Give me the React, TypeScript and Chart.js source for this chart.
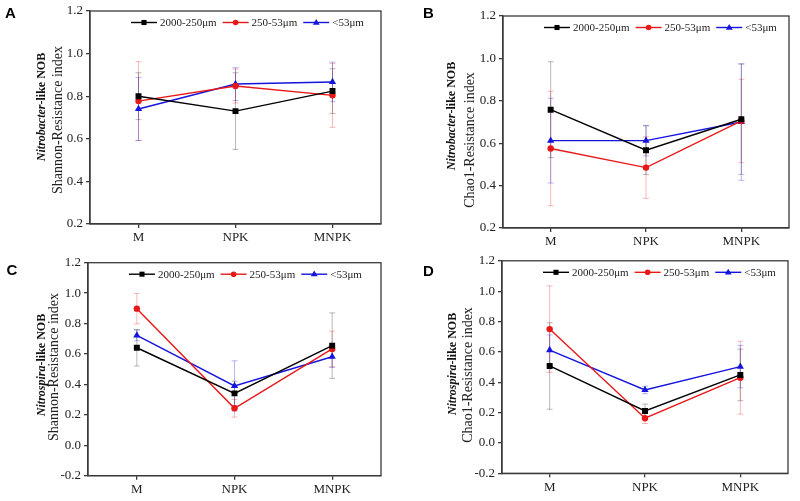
import React, { useEffect, useRef } from 'react';
import { Chart, registerables } from 'chart.js';
Chart.register(...registerables);

const categories = ['M', 'NPK', 'MNPK'];
const seriesNames = ['2000-250μm', '250-53μm', '<53μm'];

// Panel A: Nitrobacter-like NOB, Shannon-Resistance index
const aBlack = [0.8, 0.73, 0.824];
const aRed = [0.777, 0.848, 0.804];
const aBlue = [0.74, 0.857, 0.867];
const aBlackErr = [0.11, 0.18, 0.105];
const aRedErr = [0.185, 0.08, 0.15];
const aBlueErr = [0.148, 0.077, 0.093];

// Panel B: Nitrobacter-like NOB, Chao1-Resistance index
const bBlack = [0.758, 0.567, 0.713];
const bRed = [0.575, 0.485, 0.705];
const bBlue = [0.612, 0.612, 0.7];
const bBlackErr = [0.226, 0.115, 0.26];
const bRedErr = [0.27, 0.145, 0.197];
const bBlueErr = [0.2, 0.072, 0.275];

// Panel C: Nitrospira-like NOB, Shannon-Resistance index
const cBlack = [0.641, 0.341, 0.655];
const cRed = [0.898, 0.243, 0.633];
const cBlue = [0.722, 0.39, 0.582];
const cBlackErr = [0.12, 0.08, 0.215];
const cRedErr = [0.1, 0.058, 0.117];
const cBlueErr = [0.035, 0.165, 0.07];

// Panel D: Nitrospira-like NOB, Chao1-Resistance index
const dBlack = [0.507, 0.211, 0.448];
const dRed = [0.75, 0.163, 0.43];
const dBlue = [0.612, 0.349, 0.503];
const dBlackErr = [0.285, 0.045, 0.17];
const dRedErr = [0.285, 0.035, 0.24];
const dBlueErr = [0.1, 0.025, 0.14];

const yRangeAB = [0.2, 1.2];
const yRangeCD = [-0.2, 1.2];
const yStep = 0.2;

const BLACK = '#000000';
const RED = '#e81818';
const BLUE = '#1414dc';
const ERR_COLORS = ['rgba(0,0,0,0.28)', 'rgba(232,24,24,0.3)', 'rgba(20,20,220,0.3)'];
const AXIS = '#3a3a3a';
const SERIF = '"Liberation Serif", "Times New Roman", serif';

type Panel = {
  key: string;
  letter: string;
  genus: string;
  rest: string;
  title2: string;
  black: number[]; red: number[]; blue: number[];
  blackErr: number[]; redErr: number[]; blueErr: number[];
  yRange: number[];
  left: number; top: number; w: number; h: number;
  areaLeft: number; padTop: number; padRight: number; xHeight: number;
  letterX: number; letterY: number;
  t1x: number; t1y: number; t2x: number; t2y: number;
};

const panels: Panel[] = [
  {
    key: 'A', letter: 'A', genus: 'Nitrobacter', rest: '-like NOB', title2: 'Shannon-Resistance index',
    black: aBlack, red: aRed, blue: aBlue, blackErr: aBlackErr, redErr: aRedErr, blueErr: aBlueErr,
    yRange: yRangeAB,
    left: 0, top: 0, w: 400, h: 250,
    areaLeft: 90, padTop: 11, padRight: 19, xHeight: 26,
    letterX: 5, letterY: 18,
    t1x: 42, t1y: 107, t2x: 58.5, t2y: 120,
  },
  {
    key: 'B', letter: 'B', genus: 'Nitrobacter', rest: '-like NOB', title2: 'Chao1-Resistance index',
    black: bBlack, red: bRed, blue: bBlue, blackErr: bBlackErr, redErr: bRedErr, blueErr: bBlueErr,
    yRange: yRangeAB,
    left: 400, top: 0, w: 400, h: 250,
    areaLeft: 103, padTop: 16, padRight: 11, xHeight: 22,
    letterX: 23, letterY: 18,
    t1x: 52, t1y: 116, t2x: 70, t2y: 140,
  },
  {
    key: 'C', letter: 'C', genus: 'Nitrospira', rest: '-like NOB', title2: 'Shannon-Resistance index',
    black: cBlack, red: cRed, blue: cBlue, blackErr: cBlackErr, redErr: cRedErr, blueErr: cBlueErr,
    yRange: yRangeCD,
    left: 0, top: 250, w: 400, h: 251,
    areaLeft: 88, padTop: 12.7, padRight: 19, xHeight: 25.3,
    letterX: 6.5, letterY: 25,
    t1x: 41.5, t1y: 115, t2x: 54.5, t2y: 117,
  },
  {
    key: 'D', letter: 'D', genus: 'Nitrospira', rest: '-like NOB', title2: 'Chao1-Resistance index',
    black: dBlack, red: dRed, blue: dBlue, blackErr: dBlackErr, redErr: dRedErr, blueErr: dBlueErr,
    yRange: yRangeCD,
    left: 400, top: 250, w: 400, h: 251,
    areaLeft: 102, padTop: 10.7, padRight: 12, xHeight: 27.7,
    letterX: 23, letterY: 25.5,
    t1x: 53, t1y: 114, t2x: 68.5, t2y: 125,
  },
];

function drawMarker(ctx: CanvasRenderingContext2D, style: string, x: number, y: number, r: number, color: string) {
  ctx.save();
  ctx.fillStyle = color;
  ctx.beginPath();
  if (style === 'rect') {
    const s = r * Math.SQRT1_2;
    ctx.rect(x - s, y - s, 2 * s, 2 * s);
  } else if (style === 'circle') {
    ctx.arc(x, y, r, 0, Math.PI * 2);
  } else {
    ctx.moveTo(x, y - r);
    ctx.lineTo(x + r * 0.95, y + r * 0.6);
    ctx.lineTo(x - r * 0.95, y + r * 0.6);
    ctx.closePath();
  }
  ctx.fill();
  ctx.restore();
}

const decoPlugin = {
  id: 'deco',
  beforeDatasetsDraw(chart: any) {
    const ctx: CanvasRenderingContext2D = chart.ctx;
    const y = chart.scales.y;
    ctx.save();
    chart.data.datasets.forEach((ds: any, di: number) => {
      const meta = chart.getDatasetMeta(di);
      ctx.strokeStyle = ERR_COLORS[di];
      ctx.lineWidth = 1;
      ds.data.forEach((v: number, i: number) => {
        const e = ds.errors[i];
        const px = meta.data[i].x;
        const y1 = y.getPixelForValue(v + e);
        const y2 = y.getPixelForValue(v - e);
        ctx.beginPath();
        ctx.moveTo(px, y1);
        ctx.lineTo(px, y2);
        ctx.moveTo(px - 3, y1);
        ctx.lineTo(px + 3, y1);
        ctx.moveTo(px - 3, y2);
        ctx.lineTo(px + 3, y2);
        ctx.stroke();
      });
    });
    ctx.restore();
  },
  afterDraw(chart: any) {
    const ctx: CanvasRenderingContext2D = chart.ctx;
    const p: Panel = chart.options.plugins.deco.panel;
    const a = chart.chartArea;
    ctx.save();
    // frame
    ctx.strokeStyle = AXIS;
    ctx.lineWidth = 1.3;
    ctx.strokeRect(a.left, a.top, a.right - a.left, a.bottom - a.top);

    // legend
    ctx.font = `11px ${SERIF}`;
    ctx.textBaseline = 'middle';
    ctx.textAlign = 'left';
    let lx = a.left + 41;
    const ly = a.top + 11.5;
    chart.data.datasets.forEach((ds: any) => {
      ctx.strokeStyle = ds.borderColor;
      ctx.lineWidth = 1.4;
      ctx.beginPath();
      ctx.moveTo(lx, ly);
      ctx.lineTo(lx + 26, ly);
      ctx.stroke();
      drawMarker(ctx, ds.pointStyle, lx + 13, ly, ds.pointStyle === 'circle' ? 2.8 : 3.6, ds.borderColor);
      ctx.fillStyle = '#222';
      ctx.fillText(ds.label, lx + 29, ly + 0.5);
      lx += 29 + ctx.measureText(ds.label).width + 6;
    });

    // panel letter
    ctx.fillStyle = '#000';
    ctx.font = `bold 15px "Liberation Sans", Arial, sans-serif`;
    ctx.textBaseline = 'alphabetic';
    ctx.fillText(p.letter, p.letterX, p.letterY);

    // y title line 1 (mixed italic)
    const f1a = `italic bold 12px ${SERIF}`;
    const f1b = `bold 12px ${SERIF}`;
    ctx.save();
    ctx.translate(p.t1x, p.t1y);
    ctx.rotate(-Math.PI / 2);
    ctx.textBaseline = 'middle';
    ctx.font = f1a;
    const wa = ctx.measureText(p.genus).width;
    ctx.font = f1b;
    const wb = ctx.measureText(p.rest).width;
    let sx = -(wa + wb) / 2;
    ctx.font = f1a;
    ctx.fillStyle = '#111';
    ctx.fillText(p.genus, sx, 0);
    sx += wa;
    ctx.font = f1b;
    ctx.fillText(p.rest, sx, 0);
    ctx.restore();

    // y title line 2
    ctx.save();
    ctx.translate(p.t2x, p.t2y);
    ctx.rotate(-Math.PI / 2);
    ctx.textBaseline = 'middle';
    ctx.textAlign = 'center';
    ctx.font = `14px ${SERIF}`;
    ctx.fillStyle = '#222';
    ctx.fillText(p.title2, 0, 0);
    ctx.restore();

    ctx.restore();
  },
};

function PanelChart({ p }: { p: Panel }) {
  const ref = useRef<HTMLCanvasElement>(null);
  useEffect(() => {
    if (!ref.current) return;
    const mk = (label: string, data: number[], errors: number[], color: string, style: string, r: number) => ({
      label, data, errors,
      borderColor: color, backgroundColor: color,
      pointBackgroundColor: color, pointBorderColor: color,
      pointStyle: style, pointRadius: r, pointBorderWidth: 0,
      borderWidth: 1.4, tension: 0,
    });
    const chart = new Chart(ref.current, {
      type: 'line',
      data: {
        labels: categories,
        datasets: [
          mk(seriesNames[0], p.black, p.blackErr, BLACK, 'rect', 4.2),
          mk(seriesNames[1], p.red, p.redErr, RED, 'circle', 3.2),
          mk(seriesNames[2], p.blue, p.blueErr, BLUE, 'triangle', 4.2),
        ] as any,
      },
      options: {
        animation: false,
        responsive: false,
        devicePixelRatio: 1,
        layout: { autoPadding: false, padding: { left: 0, top: p.padTop, right: p.padRight, bottom: 0 } },
        plugins: {
          legend: { display: false },
          tooltip: { enabled: false },
          deco: { panel: p },
        } as any,
        scales: {
          x: {
            type: 'category',
            offset: true,
            afterFit: (s: any) => { s.height = p.xHeight; },
            grid: { display: true, drawOnChartArea: false, drawTicks: true, tickLength: 4, offset: false, color: AXIS, lineWidth: 1.3 },
            border: { display: true, color: AXIS, width: 1.3 },
            ticks: { color: '#222', font: { family: SERIF, size: 13 }, padding: 2 },
          },
          y: {
            min: p.yRange[0],
            max: p.yRange[1],
            afterFit: (s: any) => { s.width = p.areaLeft; },
            grid: { display: true, drawOnChartArea: false, drawTicks: true, tickLength: 4, color: AXIS, lineWidth: 1.3 },
            border: { display: true, color: AXIS, width: 1.3 },
            ticks: {
              stepSize: yStep,
              color: '#222',
              font: { family: SERIF, size: 13 },
              padding: 3,
              callback: (v: any) => {
                const n = Number(v);
                return (Math.abs(n) < 1e-9 ? 0 : n).toFixed(1);
              },
            },
          },
        },
      } as any,
      plugins: [decoPlugin],
    });
    return () => chart.destroy();
  }, [p]);
  return (
    <canvas
      ref={ref}
      width={p.w}
      height={p.h}
      style={{ position: 'absolute', left: p.left, top: p.top, width: p.w, height: p.h }}
    />
  );
}

export default function App() {
  return (
    <div style={{ position: 'absolute', left: 0, top: 0, width: 800, height: 501, background: '#fff' }}>
      {panels.map((p) => (
        <PanelChart key={p.key} p={p} />
      ))}
    </div>
  );
}
